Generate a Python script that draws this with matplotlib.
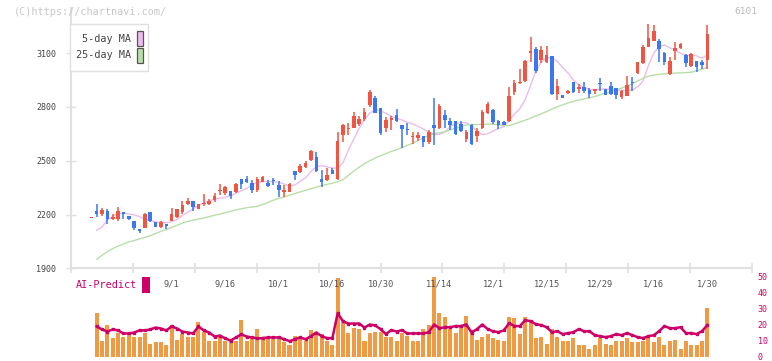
import numpy as np
import matplotlib
matplotlib.use("Agg")
import matplotlib.pyplot as plt
from matplotlib.patches import Rectangle

# daily OHLC (one row per trading day, oldest first)
opens = [2180, 2219, 2205, 2220, 2175, 2177, 2212, 2192, 2164, 2119,
         2127, 2214, 2158, 2132, 2147, 2164, 2188, 2216, 2258, 2275,
         2233, 2259, 2258, 2280, 2331, 2322, 2331, 2326, 2398, 2398,
         2376, 2337, 2381, 2376, 2387, 2365, 2326, 2326, 2443, 2437,
         2465, 2504, 2521, 2398, 2393, 2449, 2400, 2645, 2675, 2685,
         2705, 2733, 2811, 2850, 2795, 2683, 2728, 2755, 2700, 2677,
         2632, 2627, 2638, 2605, 2700, 2683, 2755, 2722, 2722, 2705,
         2620, 2698, 2638, 2681, 2767, 2784, 2720, 2717, 2722, 2881,
         2932, 2944, 3103, 3124, 3062, 3049, 3085, 2871, 2865, 2876,
         2938, 2902, 2913, 2894, 2891, 2929, 2899, 2917, 2904, 2854,
         2861, 2936, 2991, 3044, 3135, 3170, 3168, 3101, 2984, 3112,
         3131, 3090, 3029, 3057, 3051, 3062]
highs = [2180, 2258, 2236, 2231, 2201, 2240, 2212, 2192, 2164, 2119,
         2210, 2214, 2158, 2164, 2147, 2238, 2231, 2275, 2290, 2275,
         2258, 2315, 2284, 2318, 2370, 2360, 2331, 2376, 2398, 2415,
         2393, 2410, 2415, 2393, 2404, 2387, 2365, 2376, 2443, 2482,
         2499, 2560, 2549, 2449, 2460, 2460, 2660, 2706, 2710, 2772,
         2750, 2794, 2895, 2862, 2795, 2745, 2750, 2789, 2700, 2711,
         2660, 2660, 2638, 2671, 2850, 2817, 2783, 2739, 2722, 2722,
         2672, 2703, 2683, 2784, 2828, 2789, 2728, 2722, 2913, 2950,
         3012, 3062, 3192, 3137, 3142, 3142, 3085, 2956, 2865, 2894,
         2940, 2926, 2938, 2906, 2900, 2961, 2899, 2939, 2904, 2894,
         2971, 2965, 3051, 3146, 3263, 3257, 3179, 3107, 3079, 3163,
         3157, 3096, 3101, 3057, 3062, 3257]
lows = [2180, 2184, 2192, 2149, 2169, 2164, 2173, 2167, 2112, 2099,
        2127, 2158, 2130, 2123, 2119, 2164, 2179, 2205, 2253, 2219,
        2233, 2246, 2253, 2272, 2307, 2307, 2286, 2322, 2344, 2378,
        2318, 2326, 2381, 2354, 2363, 2298, 2298, 2326, 2393, 2429,
        2460, 2499, 2437, 2354, 2387, 2426, 2393, 2603, 2643, 2680,
        2694, 2722, 2800, 2767, 2645, 2661, 2672, 2716, 2571, 2644,
        2593, 2610, 2577, 2593, 2588, 2677, 2683, 2672, 2643, 2660,
        2605, 2586, 2605, 2676, 2761, 2705, 2677, 2701, 2717, 2869,
        2927, 2938, 3052, 2988, 3044, 3044, 2866, 2838, 2848, 2871,
        2878, 2880, 2880, 2850, 2870, 2891, 2866, 2869, 2843, 2845,
        2860, 2891, 2982, 3038, 3135, 3170, 3048, 3036, 2978, 3062,
        3124, 3025, 3023, 2995, 3012, 3012]
closes = [2181, 2205, 2224, 2173, 2184, 2218, 2203, 2173, 2123, 2110,
          2203, 2164, 2132, 2158, 2138, 2203, 2231, 2253, 2275, 2244,
          2258, 2260, 2275, 2303, 2332, 2354, 2303, 2370, 2372, 2383,
          2337, 2398, 2409, 2359, 2386, 2337, 2337, 2370, 2421, 2471,
          2488, 2555, 2443, 2381, 2421, 2426, 2612, 2700, 2676, 2750,
          2733, 2772, 2884, 2767, 2655, 2728, 2739, 2722, 2678, 2672,
          2633, 2643, 2605, 2660, 2683, 2806, 2728, 2700, 2650, 2666,
          2661, 2592, 2666, 2772, 2817, 2717, 2701, 2701, 2862, 2935,
          2933, 3057, 3104, 3002, 3118, 3090, 2871, 2917, 2852, 2889,
          2884, 2913, 2889, 2872, 2892, 2928, 2869, 2874, 2869, 2888,
          2923, 2935, 3051, 3135, 3187, 3224, 3124, 3051, 3057, 3131,
          3152, 3046, 3096, 3023, 3034, 3208]

# moving averages (start on the 2nd day)
ma5 = [2112, 2130, 2170, 2190, 2205, 2207, 2203, 2198, 2188, 2175,
       2166, 2158, 2155, 2154, 2160, 2172, 2195, 2212, 2232, 2250,
       2265, 2275, 2285, 2291, 2296, 2305, 2318, 2332, 2345, 2365,
       2380, 2383, 2384, 2383, 2380, 2370, 2358, 2365, 2385, 2405,
       2440, 2466, 2472, 2466, 2460, 2458, 2490, 2560, 2620, 2680,
       2730, 2765, 2785, 2778, 2765, 2748, 2737, 2727, 2715, 2705,
       2692, 2676, 2660, 2646, 2648, 2660, 2690, 2708, 2712, 2712,
       2695, 2665, 2646, 2650, 2665, 2680, 2690, 2725, 2760, 2790,
       2840, 2920, 3000, 3050, 3075, 3072, 3055, 3020, 2990, 2950,
       2925, 2906, 2898, 2897, 2900, 2900, 2897, 2895, 2893, 2891,
       2895, 2912, 2945, 3030, 3100, 3137, 3146, 3130, 3117, 3100,
       3087, 3090, 3085, 3072, 3090]
ma25 = [1950, 1972, 1993, 2010, 2024, 2036, 2047, 2055, 2064, 2072,
        2082, 2094, 2106, 2117, 2128, 2140, 2152, 2162, 2168, 2174,
        2181, 2188, 2196, 2203, 2210, 2218, 2225, 2232, 2238, 2242,
        2246, 2256, 2268, 2280, 2290, 2298, 2308, 2317, 2326, 2335,
        2344, 2353, 2361, 2368, 2375, 2383, 2395, 2418, 2442, 2464,
        2484, 2500, 2516, 2528, 2540, 2552, 2562, 2574, 2586, 2598,
        2612, 2628, 2642, 2650, 2656, 2662, 2672, 2682, 2692, 2700,
        2701, 2702, 2703, 2704, 2704, 2700, 2696, 2696, 2706, 2716,
        2726, 2738, 2750, 2762, 2774, 2788, 2801, 2812, 2822, 2831,
        2839, 2845, 2850, 2858, 2868, 2878, 2886, 2893, 2905, 2918,
        2930, 2945, 2960, 2972, 2978, 2982, 2985, 2988, 2989, 2990,
        2991, 2994, 3002, 3010, 3022]

# AI-Predict panel (bars + index line), from the 2nd day
ai_bars = [26.9, 9.4, 20.0, 11.3, 15.0, 12.5, 15.0, 12.5, 12.5, 15.0,
           8.1, 8.8, 8.8, 7.5, 20.0, 10.6, 13.8, 12.5, 11.9, 21.3,
           15.6, 10.0, 9.4, 11.9, 9.4, 9.4, 9.8, 23.1, 9.4, 13.1,
           16.9, 11.9, 11.9, 11.9, 13.1, 8.8, 7.5, 13.1, 11.9, 9.4,
           16.3, 14.4, 13.8, 10.0, 6.9, 48.8, 21.3, 14.4, 18.1, 16.9,
           9.4, 14.4, 15.6, 15.6, 12.5, 12.5, 10.0, 14.4, 13.1, 10.0,
           10.0, 17.5, 20.0, 50.0, 27.5, 25.0, 17.5, 15.0, 18.8, 25.6,
           16.3, 10.6, 11.9, 13.8, 11.3, 10.6, 10.0, 25.0, 23.8, 13.8,
           24.4, 21.9, 11.3, 12.5, 8.1, 16.9, 11.9, 10.0, 9.4, 11.3,
           6.9, 6.9, 5.0, 6.9, 11.3, 8.1, 7.5, 10.0, 10.0, 11.3,
           8.8, 8.8, 10.0, 12.5, 8.8, 12.5, 7.5, 9.4, 10.6, 5.0,
           9.4, 6.9, 6.9, 9.4, 30.6]
ai_line = [18.8, 16.9, 15.6, 16.9, 16.3, 14.4, 14.4, 15.0, 16.3, 16.3,
           16.9, 18.1, 17.5, 16.3, 18.8, 17.5, 15.6, 15.0, 14.4, 18.8,
           16.3, 15.0, 12.5, 13.1, 11.3, 10.0, 11.9, 13.8, 12.5, 11.9,
           11.3, 11.5, 11.9, 11.9, 11.9, 10.8, 9.6, 10.8, 11.9, 10.8,
           12.7, 15.0, 12.7, 11.5, 11.5, 27.1, 21.9, 20.6, 20.6, 20.6,
           18.1, 20.0, 19.4, 17.1, 14.0, 16.5, 15.6, 16.5, 14.4, 14.4,
           14.4, 14.4, 15.2, 20.0, 17.7, 18.3, 18.3, 19.0, 19.0, 20.0,
           15.0, 17.1, 20.0, 17.1, 15.8, 15.2, 16.3, 20.8, 19.0, 19.0,
           22.7, 22.1, 20.2, 19.6, 18.3, 15.2, 15.8, 14.0, 14.6, 15.2,
           17.1, 15.8, 15.8, 13.3, 12.7, 12.1, 12.7, 14.0, 13.3, 14.6,
           13.3, 12.1, 11.5, 12.7, 13.3, 15.8, 19.0, 17.7, 17.7, 18.3,
           14.6, 14.6, 14.0, 15.8, 19.6]

date_labels = ["9/1", "9/16", "10/1", "10/16", "10/30", "11/14",
               "12/1", "12/15", "12/29", "1/16", "1/30"]
date_pos = [15, 25, 35, 45, 54, 65, 75, 85, 95, 105, 115]
price_ticks = [1900, 2200, 2500, 2800, 3100]
ai_ticks = [0, 10, 20, 30, 40, 50]

UP, DOWN = "#f05442", "#3b78ef"
PINK, GREEN = "#ecbcec", "#b9deaa"
MAG, ORANGE = "#cc0066", "#f09a43"
GRID = "#e0e0e0"
FONT = "DejaVu Sans Mono"
W, H = 772, 361

fig = plt.figure(figsize=(W / 100, H / 100), dpi=100)


def fx(px):
    return px / W


def fy(py):
    return 1 - py / H


n = len(closes)
x = np.arange(n)
xlim = (-3.85, 123.4)

#%% AI-Predict panel (drawn first, transparent, so date labels stay visible)
ax2 = fig.add_axes([fx(70.7), fy(356.5), fx(752.3 - 70.7), fy(276.5) - fy(356.5)])
ax2.patch.set_visible(False)
ax2.bar(x[1:], ai_bars, width=0.75, color=ORANGE, lw=0, zorder=2)
ax2.plot(x[1:], ai_line, color=MAG, lw=1.8, marker="s", ms=2, zorder=3)
ax2.set_xlim(*xlim)
ax2.set_ylim(0, 50)
for s in ax2.spines.values():
    s.set_visible(False)
ax2.set_xticks([])
ax2.yaxis.tick_right()
ax2.set_yticks(ai_ticks)
ax2.set_yticklabels([str(v) for v in ai_ticks], fontsize=6, family=FONT,
                    color=MAG)
ax2.tick_params(axis="y", length=0, pad=4)

#%% price panel
ax = fig.add_axes([fx(70.7), fy(268.3), fx(752.3 - 70.7), fy(8) - fy(268.3)])
ax.patch.set_visible(False)
o, h, l, c = (np.array(a, float) for a in (opens, highs, lows, closes))
col = np.where(c >= o, UP, DOWN)
ax.vlines(x, l, h, colors=col, lw=1.1, zorder=3)
body = np.maximum(np.abs(c - o), 7)
ax.bar(x, body, bottom=np.minimum(o, c), width=0.66, color=col, lw=0, zorder=4)
ax.plot(x[1:], ma5, color=PINK, lw=1.0, zorder=2)
ax.plot(x[1:], ma25, color=GREEN, lw=1.0, zorder=2)

ax.set_xlim(*xlim)
ax.set_ylim(1900, 3352)
for s in ("top", "right"):
    ax.spines[s].set_visible(False)
for s in ("left", "bottom"):
    ax.spines[s].set_color(GRID)
    ax.spines[s].set_linewidth(1.5)
ax.set_yticks(price_ticks)
ax.set_yticklabels([str(v) for v in price_ticks], fontsize=6, family=FONT,
                   color="#444444")
ax.tick_params(axis="y", direction="inout", length=7, color=GRID, width=1, pad=7)
ax.set_xticks(np.linspace(xlim[0], xlim[1], 12))
ax.set_xticklabels([])
ax.tick_params(axis="x", which="major", direction="inout", length=7, color=GRID,
               width=1.2)
ax.set_xticks(date_pos, minor=True)
ax.set_xticklabels(date_labels, minor=True, fontsize=6.3, family=FONT,
                   color="#555555")
ax.tick_params(axis="x", which="minor", length=0, pad=8)

# legend box
fig.patches.append(Rectangle((fx(70), fy(71)), fx(78), fy(24) - fy(71),
                             transform=fig.transFigure, fc="white", ec=GRID,
                             lw=1, zorder=5))
for label, colr, yc in (("5-day MA", PINK, 38.5), ("25-day MA", GREEN, 55.5)):
    fig.text(fx(131), fy(yc), label, ha="right", va="center", fontsize=7.3,
             family=FONT, color="#444444", zorder=6)
    fig.patches.append(Rectangle((fx(136.5), fy(yc + 7.5)), fx(6), fy(yc - 7.5) - fy(yc + 7.5),
                                 transform=fig.transFigure, fc=colr,
                                 ec="#555555", lw=0.9, zorder=6))

fig.text(fx(14), fy(12), "(C)https://chartnavi.com/", fontsize=7.3, family=FONT,
         color="#c8c8c8", va="center")
fig.text(fx(757), fy(12), "6101", fontsize=6.8, family=FONT, color="#bbbbbb",
         va="center", ha="right")

fig.text(fx(76), fy(285), "AI-Predict", fontsize=7.3, family=FONT, color=MAG,
         va="center")
fig.patches.append(Rectangle((fx(142), fy(293)), fx(7.5), fy(277) - fy(293),
                             transform=fig.transFigure, fc=MAG, lw=0))

fig.savefig("out.png", dpi=100)
